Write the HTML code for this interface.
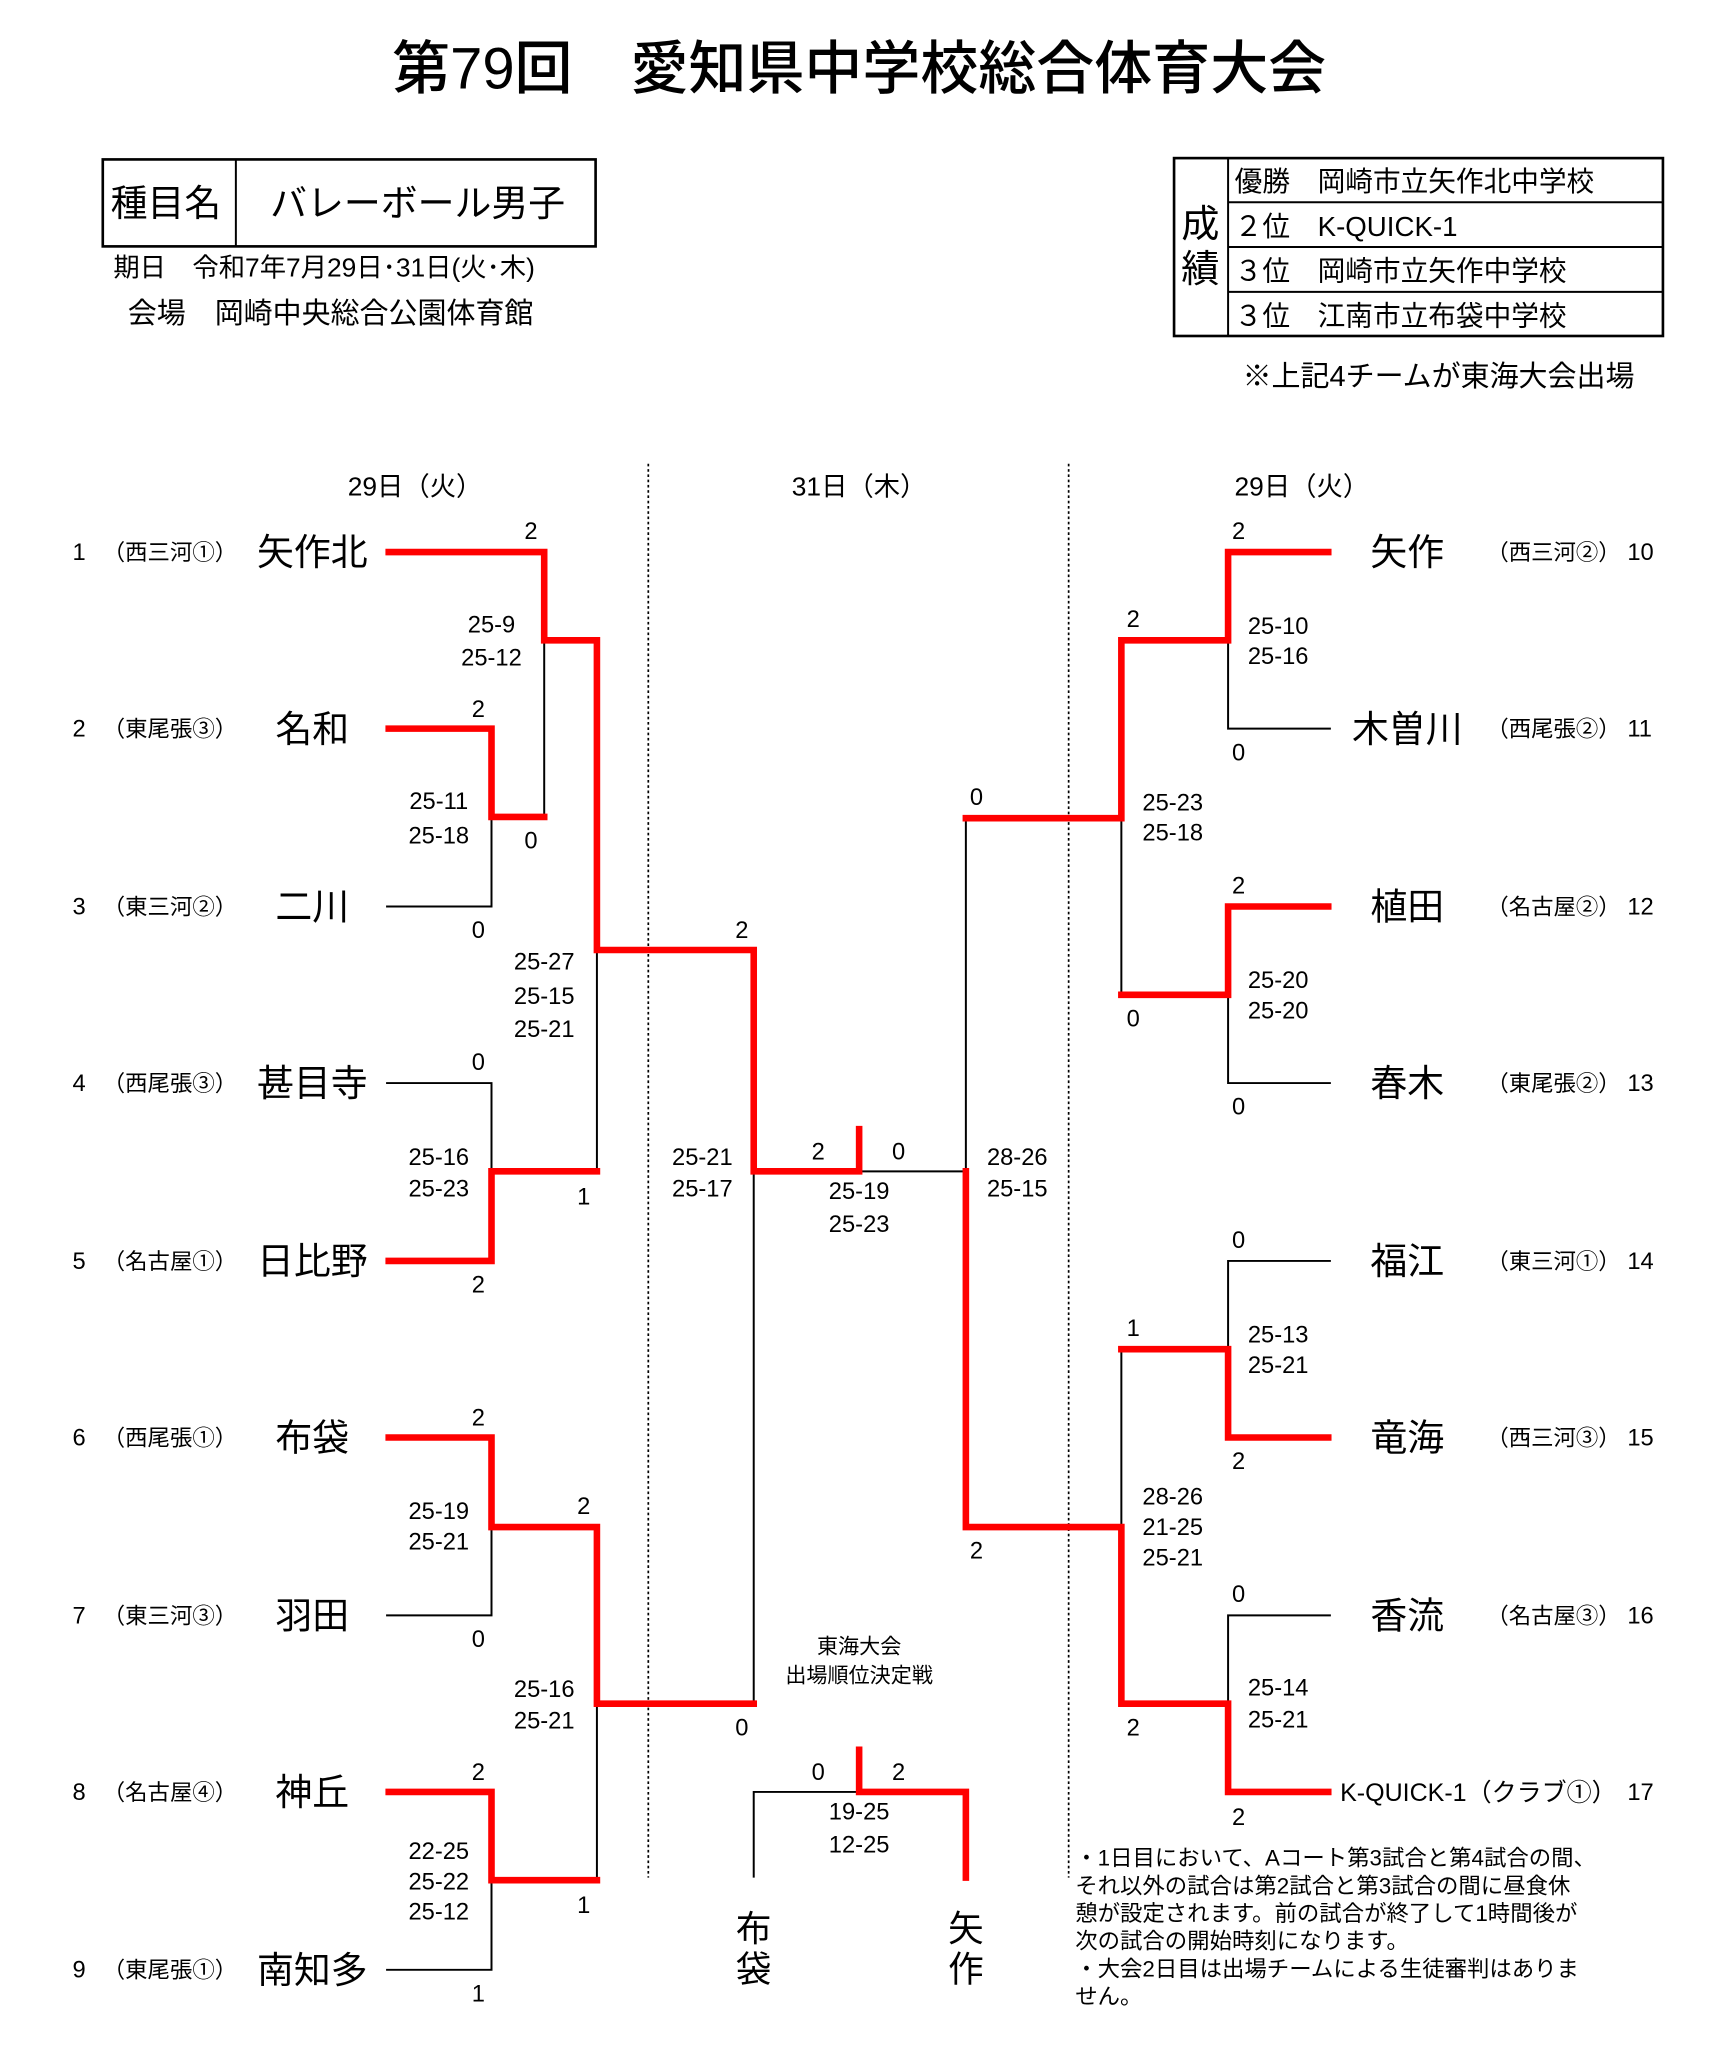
<!DOCTYPE html>
<html><head><meta charset="utf-8"><style>
html,body{margin:0;padding:0;background:#fff}
svg{display:block}
text{font-family:"Liberation Sans","Noto Sans CJK JP",sans-serif;fill:#000}
.r{stroke:#f00;stroke-width:5;fill:none;stroke-linecap:square}
.b{stroke:#000;stroke-width:1.5;fill:none}
.s{font-size:18px;text-anchor:middle}
.n{font-size:28px;text-anchor:middle}
.g{font-size:17px}
.num{font-size:18px}
</style></head><body>
<svg width="1713" height="2066" viewBox="0 0 1300 1568" preserveAspectRatio="none" xmlns="http://www.w3.org/2000/svg">
<text x="652" y="67" font-size="44" text-anchor="middle" font-weight="500">第79回　愛知県中学校総合体育大会</text>
<!-- left info box -->
<rect x="78" y="121" width="374" height="66" fill="none" stroke="#000" stroke-width="2"/>
<line x1="179" y1="121" x2="179" y2="187" stroke="#000" stroke-width="1.5"/>
<text x="84" y="164" font-size="28">種目名</text>
<text x="205" y="164" font-size="28">バレーボール男子</text>
<text x="86" y="210" font-size="20">期日　令和7年7月29日･31日(火･木)</text>
<text x="97" y="245" font-size="22">会場　岡崎中央総合公園体育館</text>
<!-- result box -->
<rect x="891" y="120" width="371" height="135" fill="none" stroke="#000" stroke-width="2"/>
<line x1="932" y1="120" x2="932" y2="255" stroke="#000" stroke-width="1.5"/>
<line x1="932" y1="153.5" x2="1262" y2="153.5" stroke="#000" stroke-width="1.5"/>
<line x1="932" y1="187.5" x2="1262" y2="187.5" stroke="#000" stroke-width="1.5"/>
<line x1="932" y1="221.5" x2="1262" y2="221.5" stroke="#000" stroke-width="1.5"/>
<text x="911" y="180" font-size="29" text-anchor="middle">成</text>
<text x="911" y="214" font-size="29" text-anchor="middle">績</text>
<text x="937" y="145" font-size="21">優勝　岡崎市立矢作北中学校</text>
<text x="937" y="179" font-size="21">２位　K-QUICK-1</text>
<text x="937" y="213" font-size="21">３位　岡崎市立矢作中学校</text>
<text x="937" y="247" font-size="21">３位　江南市立布袋中学校</text>
<text x="943" y="293" font-size="22">※上記4チームが東海大会出場</text>
<!-- dotted -->
<line x1="492" y1="352" x2="492" y2="1425" stroke="#000" stroke-width="1.3" stroke-dasharray="2,2"/>
<line x1="811" y1="352" x2="811" y2="1425" stroke="#000" stroke-width="1.3" stroke-dasharray="2,2"/>
<text x="315" y="376" font-size="20" text-anchor="middle">29日（火）</text>
<text x="652" y="376" font-size="20" text-anchor="middle">31日（木）</text>
<text x="988" y="376" font-size="20" text-anchor="middle">29日（火）</text>
<!-- left teams -->
<g class="num">
<text x="55" y="425">1</text><text x="78" y="425" class="g">（西三河①）</text>
<text x="55" y="559">2</text><text x="78" y="559" class="g">（東尾張③）</text>
<text x="55" y="694">3</text><text x="78" y="694" class="g">（東三河②）</text>
<text x="55" y="828">4</text><text x="78" y="828" class="g">（西尾張③）</text>
<text x="55" y="963">5</text><text x="78" y="963" class="g">（名古屋①）</text>
<text x="55" y="1097">6</text><text x="78" y="1097" class="g">（西尾張①）</text>
<text x="55" y="1232">7</text><text x="78" y="1232" class="g">（東三河③）</text>
<text x="55" y="1366">8</text><text x="78" y="1366" class="g">（名古屋④）</text>
<text x="55" y="1501">9</text><text x="78" y="1501" class="g">（東尾張①）</text>
</g>
<text class="n" x="237" y="429">矢作北</text>
<text class="n" x="237" y="563">名和</text>
<text class="n" x="237" y="698">二川</text>
<text class="n" x="237" y="832">甚目寺</text>
<text class="n" x="237" y="967">日比野</text>
<text class="n" x="237" y="1101">布袋</text>
<text class="n" x="237" y="1236">羽田</text>
<text class="n" x="237" y="1370">神丘</text>
<text class="n" x="237" y="1505">南知多</text>
<!-- right teams -->
<text class="n" x="1068" y="429">矢作</text>
<text class="n" x="1068" y="563">木曽川</text>
<text class="n" x="1068" y="698">植田</text>
<text class="n" x="1068" y="832">春木</text>
<text class="n" x="1068" y="967">福江</text>
<text class="n" x="1068" y="1101">竜海</text>
<text class="n" x="1068" y="1236">香流</text>
<text x="1017" y="1367" font-size="19">K-QUICK-1（クラブ①）</text>
<g class="num">
<text x="1128" y="425" class="g">（西三河②）</text><text x="1235" y="425">10</text>
<text x="1128" y="559" class="g">（西尾張②）</text><text x="1235" y="559">11</text>
<text x="1128" y="694" class="g">（名古屋②）</text><text x="1235" y="694">12</text>
<text x="1128" y="828" class="g">（東尾張②）</text><text x="1235" y="828">13</text>
<text x="1128" y="963" class="g">（東三河①）</text><text x="1235" y="963">14</text>
<text x="1128" y="1097" class="g">（西三河③）</text><text x="1235" y="1097">15</text>
<text x="1128" y="1232" class="g">（名古屋③）</text><text x="1235" y="1232">16</text>
<text x="1235" y="1366">17</text>
</g>
<!-- black lines -->
<path class="b" d="M413 486V620 M293 688H373V620 M453 721V889 M293 822H373V889 M293 1226H373V1159 M293 1495H373V1427 M453 1293V1427 M572 889V1293 M652 889H733 M733 621V889 M1010 553H932V486 M1010 822H932V755 M851 621V755 M1010 957H932V1024 M1010 1226H932V1293 M851 1159V1024 M572 1425V1360H652"/>
<!-- red lines -->
<path class="r" d="M295 419H413V486H453V721H572V889H652V857"/>
<path class="r" d="M295 553H373V620H413"/>
<path class="r" d="M295 957H373V889H453"/>
<path class="r" d="M295 1091H373V1159H453V1293H572"/>
<path class="r" d="M295 1360H373V1427H453"/>
<path class="r" d="M733 889V1159H851V1293H932V1360H1008"/>
<path class="r" d="M733 621H851V486H932V419H1008"/>
<path class="r" d="M851 755H932V688H1008"/>
<path class="r" d="M851 1024H932V1091H1008"/>
<path class="r" d="M652 1328V1360H733V1425"/>
<!-- scores -->
<g class="s">
<text x="403" y="409">2</text><text x="373" y="480">25-9</text><text x="373" y="505">25-12</text>
<text x="363" y="544">2</text><text x="333" y="614">25-11</text><text x="333" y="640">25-18</text>
<text x="403" y="644">0</text><text x="363" y="712">0</text>
<text x="413" y="736">25-27</text><text x="413" y="762">25-15</text><text x="413" y="787">25-21</text>
<text x="363" y="812">0</text><text x="333" y="884">25-16</text><text x="333" y="908">25-23</text>
<text x="443" y="914">1</text><text x="363" y="981">2</text>
<text x="363" y="1082">2</text><text x="333" y="1153">25-19</text><text x="333" y="1176">25-21</text>
<text x="443" y="1149">2</text><text x="363" y="1250">0</text>
<text x="413" y="1288">25-16</text><text x="413" y="1312">25-21</text>
<text x="363" y="1351">2</text><text x="333" y="1411">22-25</text><text x="333" y="1434">25-22</text><text x="333" y="1457">25-12</text>
<text x="443" y="1452">1</text><text x="363" y="1519">1</text>
<text x="563" y="712">2</text><text x="533" y="884">25-21</text><text x="533" y="908">25-17</text>
<text x="563" y="1317">0</text>
<text x="621" y="880">2</text><text x="682" y="880">0</text>
<text x="652" y="910">25-19</text><text x="652" y="935">25-23</text>
<text x="741" y="611">0</text><text x="772" y="884">28-26</text><text x="772" y="908">25-15</text>
<text x="741" y="1183">2</text>
<text x="940" y="409">2</text><text x="970" y="481">25-10</text><text x="970" y="504">25-16</text><text x="940" y="577">0</text>
<text x="860" y="476">2</text><text x="890" y="615">25-23</text><text x="890" y="638">25-18</text><text x="860" y="779">0</text>
<text x="940" y="678">2</text><text x="970" y="750">25-20</text><text x="970" y="773">25-20</text><text x="940" y="846">0</text>
<text x="940" y="947">0</text><text x="970" y="1019">25-13</text><text x="970" y="1042">25-21</text><text x="940" y="1115">2</text>
<text x="860" y="1014">1</text><text x="890" y="1142">28-26</text><text x="890" y="1165">21-25</text><text x="890" y="1188">25-21</text><text x="860" y="1317">2</text>
<text x="940" y="1216">0</text><text x="970" y="1287">25-14</text><text x="970" y="1311">25-21</text><text x="940" y="1385">2</text>
<text x="621" y="1351">0</text><text x="682" y="1351">2</text>
<text x="652" y="1381">19-25</text><text x="652" y="1406">12-25</text>
</g>
<text x="652" y="1255" font-size="16" text-anchor="middle">東海大会</text>
<text x="652" y="1277" font-size="16" text-anchor="middle">出場順位決定戦</text>
<text x="572" y="1473" font-size="27" text-anchor="middle">布</text>
<text x="572" y="1504" font-size="27" text-anchor="middle">袋</text>
<text x="733" y="1473" font-size="27" text-anchor="middle">矢</text>
<text x="733" y="1504" font-size="27" text-anchor="middle">作</text>
<g font-size="17">
<text x="816" y="1416">・1日目において、Aコート第3試合と第4試合の間、</text>
<text x="816" y="1437">それ以外の試合は第2試合と第3試合の間に昼食休</text>
<text x="816" y="1458">憩が設定されます。前の試合が終了して1時間後が</text>
<text x="816" y="1479">次の試合の開始時刻になります。</text>
<text x="816" y="1500">・大会2日目は出場チームによる生徒審判はありま</text>
<text x="816" y="1521">せん。</text>
</g>
</svg>
</body></html>
